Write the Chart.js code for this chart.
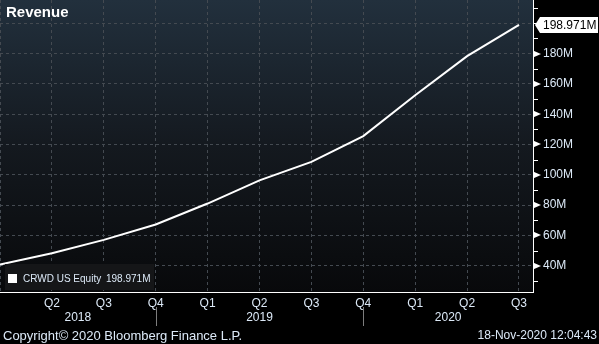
<!DOCTYPE html>
<html>
<head>
<meta charset="utf-8">
<title>Revenue</title>
<script src="https://cdn.jsdelivr.net/npm/chart.js@4"></script>
<style>
  html, body { margin: 0; padding: 0; background: #000; }
</style>
</head>
<body>
<canvas id="revChart" width="599" height="344"></canvas>
<script>
// quarterly revenue, millions USD
const quarters = ['Q1', 'Q2', 'Q3', 'Q4', 'Q1', 'Q2', 'Q3', 'Q4', 'Q1', 'Q2', 'Q3'];
const revenue = [40.7, 48.2, 57.0, 67.2, 81.0, 96.3, 108.5, 125.5, 152.5, 178.3, 198.971];
const years = ['2018', '2019', '2020'];
const yearBreaks = [3, 7];          // quarter index where the year divider sits
const yTicks = [30, 40, 50, 60, 70, 80, 90, 100, 110, 120, 130, 140, 150, 160, 170, 180, 190, 200, 210];
const seriesName = 'CRWD US Equity';

const X_MAX = 10.27;
const FONT = '"Liberation Sans", Arial, sans-serif';
const TXT = '#dce9f7';
const GRID = '#444a51';

const labeled = v => v % 20 === 0 && v >= 40 && v <= 180;
const fmt = v => v.toFixed(3) + 'M';

const bbgDecor = {
    id: 'bbgDecor',
    beforeDraw(chart) {
        const { ctx, chartArea: a } = chart;
        ctx.save();
        ctx.fillStyle = '#000';
        ctx.fillRect(0, 0, chart.width, chart.height);
        const g = ctx.createLinearGradient(0, a.top, 0, a.bottom);
        g.addColorStop(0, '#22303d');
        g.addColorStop(0.5, '#14191f');
        g.addColorStop(1, '#08090b');
        ctx.fillStyle = g;
        ctx.fillRect(a.left, a.top, a.right - a.left, a.bottom - a.top);
        ctx.restore();
    },
    afterDraw(chart) {
        const { ctx, chartArea: a } = chart;
        const xs = chart.scales.x, ys = chart.scales.y;
        ctx.save();

        // title
        ctx.fillStyle = '#fff';
        ctx.font = 'bold 15px ' + FONT;
        ctx.textBaseline = 'alphabetic';
        ctx.textAlign = 'left';
        ctx.fillText('Revenue', 6, 17);

        // legend
        const last = revenue[revenue.length - 1];
        ctx.fillStyle = '#151618';
        ctx.fillRect(5, 264, 149, 26);
        ctx.fillStyle = '#fff';
        ctx.fillRect(8, 274, 9, 9);
        ctx.font = '10px ' + FONT;
        ctx.fillStyle = TXT;
        ctx.textBaseline = 'middle';
        ctx.fillText(seriesName, 23, 279);
        ctx.fillText(fmt(last), 106, 279);

        // y axis tick marks: arrows on labelled values, short dashes between
        ctx.fillStyle = '#fff';
        ctx.strokeStyle = '#fff';
        ctx.lineWidth = 1;
        yTicks.forEach(v => {
            const py = Math.round(ys.getPixelForValue(v));
            if (labeled(v)) {
                ctx.beginPath();
                ctx.moveTo(a.right, py - 3.5);
                ctx.lineTo(a.right + 8, py);
                ctx.lineTo(a.right, py + 3.5);
                ctx.closePath();
                ctx.fill();
            } else {
                ctx.beginPath();
                ctx.moveTo(a.right, py + 0.5);
                ctx.lineTo(a.right + 5, py + 0.5);
                ctx.stroke();
            }
        });

        // last value tag
        const ly = ys.getPixelForValue(last);
        ctx.fillStyle = '#fff';
        ctx.beginPath();
        ctx.moveTo(a.right + 2, ly);
        ctx.lineTo(a.right + 7, ly - 8);
        ctx.lineTo(598, ly - 8);
        ctx.lineTo(598, ly + 8);
        ctx.lineTo(a.right + 7, ly + 8);
        ctx.closePath();
        ctx.fill();
        ctx.fillStyle = '#000';
        ctx.font = '12px ' + FONT;
        ctx.fillText(fmt(last), a.right + 10, ly + 0.5);

        // years and dividers
        const edges = [0].concat(yearBreaks, [X_MAX]);
        ctx.fillStyle = TXT;
        ctx.textAlign = 'center';
        years.forEach((y, i) => {
            const cx = xs.getPixelForValue((edges[i] + edges[i + 1]) / 2);
            ctx.fillText(y, cx, 318);
        });
        ctx.strokeStyle = '#7d7d7d';
        yearBreaks.forEach(b => {
            const px = Math.round(xs.getPixelForValue(b)) + 0.5;
            ctx.beginPath();
            ctx.moveTo(px, 307);
            ctx.lineTo(px, 326);
            ctx.stroke();
        });

        // footer
        ctx.font = '13px ' + FONT;
        ctx.textAlign = 'left';
        ctx.fillText('Copyright\u00a9 2020 Bloomberg Finance L.P.', 3, 336);
        ctx.font = '12px ' + FONT;
        ctx.textAlign = 'right';
        ctx.fillText('18-Nov-2020 12:04:43', 597, 336);

        ctx.restore();
    }
};

const ctx = document.getElementById('revChart').getContext('2d');
const chart = new Chart(ctx, {
    type: 'line',
    data: {
        datasets: [{
            label: seriesName,
            data: revenue.map((v, i) => ({ x: i, y: v })),
            borderColor: '#ffffff',
            borderWidth: 2,
            pointRadius: 0,
            tension: 0,
            fill: false
        }]
    },
    options: {
        responsive: false,
        animation: false,
        layout: { padding: 0 },
        plugins: {
            legend: { display: false },
            title: { display: false },
            tooltip: { enabled: false }
        },
        scales: {
            x: {
                type: 'linear',
                min: 0,
                max: X_MAX,
                afterBuildTicks: s => { s.ticks = quarters.map((q, i) => ({ value: i })); },
                afterFit: s => { s.height = 52; s.paddingLeft = 0; s.paddingRight = 0; },
                ticks: {
                    autoSkip: false,
                    maxRotation: 0,
                    padding: 4,
                    color: TXT,
                    font: { family: FONT, size: 12 },
                    callback: (v, i) => i === 0 ? '' : quarters[i]
                },
                grid: { color: GRID, lineWidth: 1, drawTicks: false, tickLength: 0 },
                border: { display: true, color: '#ffffff', width: 1, dash: [3, 3] }
            },
            y: {
                position: 'right',
                min: 22.6,
                max: 215.4,
                afterBuildTicks: s => { s.ticks = yTicks.map(v => ({ value: v })); },
                afterFit: s => { s.width = 66; s.paddingTop = 0; s.paddingBottom = 0; },
                ticks: {
                    autoSkip: false,
                    padding: 10,
                    color: TXT,
                    font: { family: FONT, size: 12 },
                    callback: v => labeled(v) ? v + 'M' : ''
                },
                grid: {
                    color: c => (c.tick && c.tick.value % 20 === 0 && c.tick.value >= 40 && c.tick.value <= 200) ? GRID : 'rgba(0,0,0,0)',
                    lineWidth: 1,
                    drawTicks: false,
                    tickLength: 0
                },
                border: { display: true, color: '#ffffff', width: 1, dash: [3, 3] }
            }
        }
    },
    plugins: [bbgDecor]
});
</script>
</body>
</html>
